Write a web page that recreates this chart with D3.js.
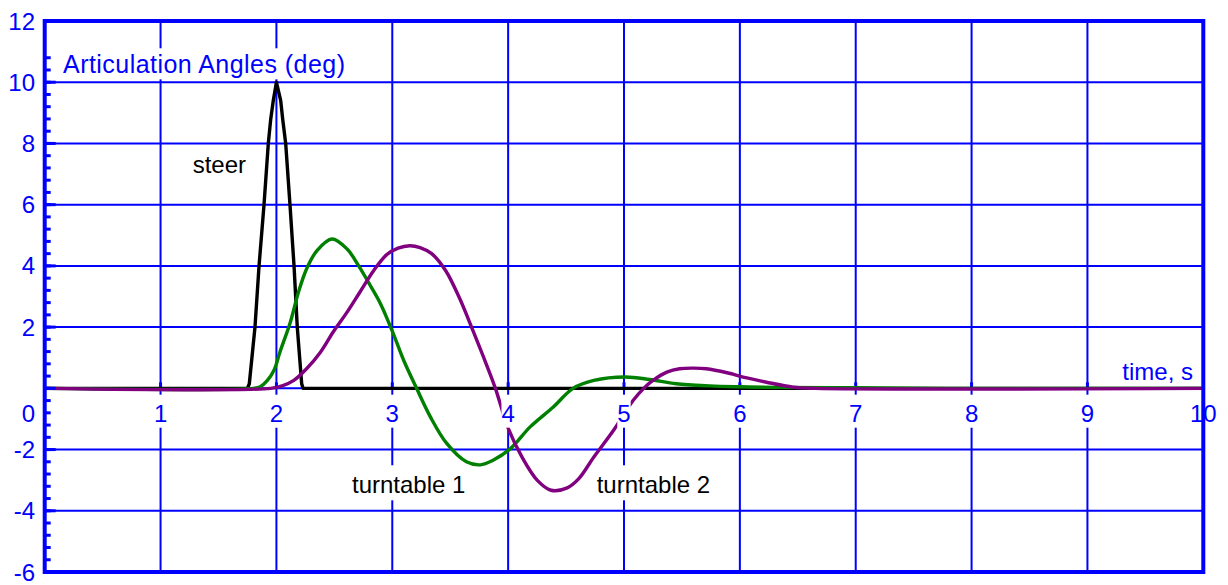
<!DOCTYPE html>
<html>
<head>
  <meta charset="utf-8">
  <title>Articulation Angles</title>
  <script src="https://d3js.org/d3.v7.min.js"></script>
  <style>
    body { margin: 0; background: #fff; }
    text { font-family: "Liberation Sans", Arial, sans-serif; }
  </style>
</head>
<body>
  <div id="chart"></div>
  <script>
    // values (time in s, angle in deg)
    const steerTime = [0, 1.75, 1.766, 1.815, 1.85, 1.893, 1.93, 1.951, 1.973, 2.0, 2.037, 2.054, 2.08, 2.117, 2.152, 2.18, 2.218, 2.23, 10];
    const steerAngle = [0, 0, 0.15, 2, 4, 6, 8, 8.8, 9.4, 10, 9.4, 8.8, 8, 6, 4, 2, 0.15, 0, 0];

    const turn1Time = [0, 1.80, 1.86, 1.92, 1.98, 2.03, 2.12, 2.19, 2.26, 2.35, 2.48, 2.61, 2.71, 2.81, 2.90, 3.0, 3.10, 3.21, 3.33, 3.47, 3.64, 3.76, 3.87, 4.02, 4.19, 4.39, 4.56, 4.74, 5.01, 5.22, 5.45, 5.74, 6.0, 6.3, 7.0, 7.8, 10];
    const turn1Angle = [0, 0, 0.05, 0.25, 0.6, 1.18, 2.16, 3.14, 3.9, 4.5, 4.88, 4.55, 4.0, 3.36, 2.75, 1.87, 0.9, 0, -0.94, -1.8, -2.4, -2.5, -2.35, -1.97, -1.26, -0.61, 0, 0.26, 0.37, 0.29, 0.15, 0.08, 0.05, 0.03, 0.02, 0, 0];

    const turn2Time = [0, 1.95, 2.05, 2.15, 2.26, 2.38, 2.49, 2.61, 2.72, 2.84, 2.95, 3.05, 3.15, 3.24, 3.34, 3.46, 3.58, 3.70, 3.80, 3.89, 4.0, 4.12, 4.25, 4.37, 4.51, 4.61, 4.74, 4.91, 5.08, 5.17, 5.25, 5.37, 5.48, 5.60, 5.71, 5.89, 6.06, 6.23, 6.46, 6.65, 10];
    const turn2Angle = [0, 0, 0.08, 0.26, 0.64, 1.18, 1.84, 2.49, 3.14, 3.85, 4.36, 4.58, 4.66, 4.6, 4.4, 3.85, 2.95, 1.85, 0.9, 0, -1.3, -2.25, -3.0, -3.33, -3.25, -2.95, -2.24, -1.37, -0.39, 0, 0.26, 0.53, 0.64, 0.66, 0.64, 0.51, 0.34, 0.2, 0.04, 0, 0];

    const xTickValues = [1, 2, 3, 4, 5, 6, 7, 8, 9, 10];
    const yTickValues = [-6, -4, -2, 0, 2, 4, 6, 8, 10, 12];

    const W = 1228, H = 585;
    const blue = "#0000ff";

    const svg = d3.select("#chart").append("svg")
      .attr("width", W).attr("height", H);

    const x = d3.scaleLinear().domain([0, 10]).range([44.7, 1203.3]);
    const y = d3.scaleLinear().domain([-6, 12]).range([572, 21]);

    // grid
    const grid = svg.append("g").attr("stroke", blue).attr("stroke-width", 2);
    grid.selectAll("line.v").data(d3.range(1, 10)).join("line")
      .attr("class", "v")
      .attr("x1", d => x(d)).attr("x2", d => x(d))
      .attr("y1", y(12)).attr("y2", y(-6));
    grid.selectAll("line.h").data(yTickValues.filter(d => d > -6 && d < 12)).join("line")
      .attr("class", "h")
      .attr("x1", x(0)).attr("x2", x(10))
      .attr("y1", d => y(d)).attr("y2", d => y(d));
    // small stubs on the time axis
    grid.selectAll("line.s").data(d3.range(1, 10)).join("line")
      .attr("class", "s").attr("stroke-width", 3)
      .attr("x1", d => x(d)).attr("x2", d => x(d))
      .attr("y1", y(0) - 6).attr("y2", y(0));

    // series
    const smooth = d3.line().x(d => x(d[0])).y(d => y(d[1])).curve(d3.curveCatmullRom.alpha(0.5));
    const straight = d3.line().x(d => x(d[0])).y(d => y(d[1]));
    const series = [
      { t: steerTime, v: steerAngle, color: "#000000", gen: straight },
      { t: turn1Time, v: turn1Angle, color: "#008000", gen: smooth },
      { t: turn2Time, v: turn2Angle, color: "#800080", gen: smooth }
    ];
    svg.append("g").selectAll("path").data(series).join("path")
      .attr("d", s => s.gen(s.t.map((t, i) => [t, s.v[i]])))
      .attr("fill", "none")
      .attr("stroke", s => s.color)
      .attr("stroke-width", 3.4)
      .attr("stroke-linejoin", "round");

    // text with a white box behind it
    function boxedText(g, tx, ty, str, opts) {
      const grp = g.append("g");
      const rect = grp.append("rect").attr("fill", "#fff");
      const t = grp.append("text")
        .attr("x", tx).attr("y", ty)
        .attr("font-size", opts.size)
        .attr("fill", opts.color)
        .attr("text-anchor", opts.anchor || "start")
        .text(str);
      if (opts.length) t.attr("textLength", opts.length).attr("lengthAdjust", "spacing");
      const b = t.node().getBBox();
      const p = opts.pad || [1, 1, 1, 1];
      rect.attr("x", b.x - p[3]).attr("y", b.y - p[0])
        .attr("width", b.width + p[1] + p[3]).attr("height", b.height + p[0] + p[2]);
      if (opts.nobox) rect.remove();
      return grp;
    }

    const labels = svg.append("g");

    // time tick labels
    xTickValues.forEach(d => {
      boxedText(labels, x(d), 421.7, String(d),
        { size: 24, color: blue, anchor: "middle", pad: [5, 0, 1, 0], nobox: d === 10 });
    });

    // angle tick labels
    yTickValues.forEach(d => {
      const ty = d === 0 ? 421.7 : y(d) + 8.5;
      labels.append("text")
        .attr("x", 35).attr("y", ty)
        .attr("font-size", 24).attr("fill", blue)
        .attr("text-anchor", "end")
        .text(d);
    });

    boxedText(labels, 63, 73.3, "Articulation Angles (deg)", { size: 25, color: blue, length: 282, pad: [2, 2, 1, 2] });
    boxedText(labels, 1193, 380, "time, s", { size: 24, color: blue, anchor: "end", nobox: true });
    boxedText(labels, 192.7, 173.3, "steer", { size: 24, color: "#000" });
    boxedText(labels, 352, 493.3, "turntable 1", { size: 24, color: "#000", pad: [6, 2, 2, 2] });
    boxedText(labels, 596.7, 493.3, "turntable 2", { size: 24, color: "#000", pad: [6, 2, 2, 2] });

    // frame and left axis ticks
    const frame = svg.append("g").attr("stroke", blue);
    frame.append("rect")
      .attr("x", x(0)).attr("y", y(12))
      .attr("width", x(10) - x(0)).attr("height", y(-6) - y(12))
      .attr("fill", "none").attr("stroke-width", 4);
    const minor = d3.range(-6, 10.81, 0.4);
    frame.selectAll("line.m").data(minor).join("line")
      .attr("class", "m").attr("stroke-width", 3)
      .attr("x1", x(0)).attr("x2", x(0) + 6)
      .attr("y1", d => y(d)).attr("y2", d => y(d));
    frame.selectAll("line.M").data(yTickValues.filter(d => d > -6 && d < 12)).join("line")
      .attr("class", "M").attr("stroke-width", 3)
      .attr("x1", x(0)).attr("x2", x(0) + 11)
      .attr("y1", d => y(d)).attr("y2", d => y(d));
  </script>
</body>
</html>
